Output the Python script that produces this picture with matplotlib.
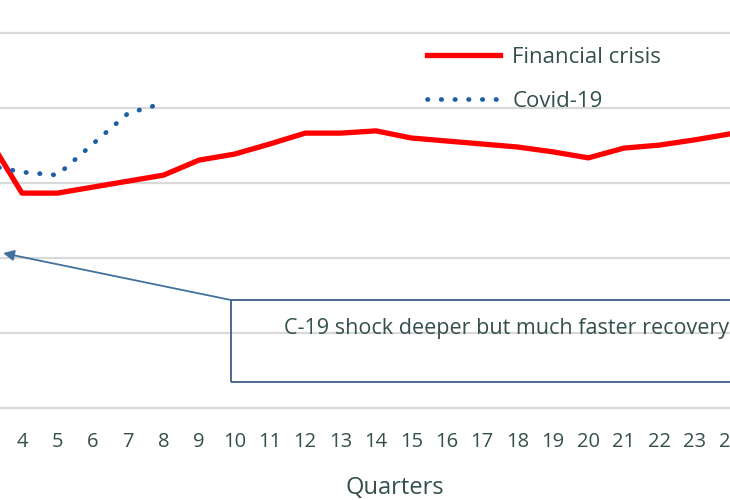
import matplotlib
matplotlib.use("Agg")
import matplotlib.pyplot as plt
from matplotlib.patches import Rectangle

plt.rcParams["font.family"] = ["Open Sans", "DejaVu Sans"]

# data (deviation from pre-crisis level)
quarters_fc = list(range(1, 25))
financial_crisis = [0.0, -1.0, -2.72, -4.27, -4.27, -4.11, -3.95, -3.79, -3.39, -3.23,
                    -2.96, -2.67, -2.67, -2.61, -2.80, -2.88, -2.96, -3.04, -3.17, -3.33,
                    -3.07, -2.99, -2.85, -2.69]
quarters_c19 = list(range(1, 9))
covid = [0.0, -8.5, -3.52, -3.71, -3.79, -2.96, -2.14, -1.87]
note = "C-19 shock deeper but much faster recovery"

text_col = "#34504c"
grid_col = "#d9d9d9"

fig = plt.figure(figsize=(7.3, 5.0), dpi=100)
ax = fig.add_axes([0, 0.184, 1, 0.816])

ax.plot(quarters_fc, financial_crisis, color="#ff0000", lw=3.8,
        solid_joinstyle="round", label="Financial crisis", zorder=3)
ax.plot(quarters_c19, covid, color="#1f5fa8", lw=3.4, dashes=(0.1, 2.8),
        dash_capstyle="round", label="Covid-19", zorder=3)

ax.set_xticks(quarters_fc)
ax.set_yticks([0, -2, -4, -6, -8, -10])
ax.set_xlim(3.38, 24.0)
ax.set_ylim(-10, 0.88)
ax.set_yticklabels([])
ax.tick_params(axis="y", length=0)
ax.tick_params(axis="x", length=0, pad=17, labelsize=14.5, labelcolor=text_col)
ax.grid(axis="y", color=grid_col, lw=1.6)
ax.set_axisbelow(True)
for side in ["top", "left", "right"]:
    ax.spines[side].set_visible(False)
ax.spines["bottom"].set_color(grid_col)
ax.spines["bottom"].set_linewidth(1.6)

ax.set_xlabel("Quarters", fontsize=17, color=text_col)
ax.xaxis.set_label_coords(0.541, -0.196)
ax.xaxis.label.set_va("center")

leg = ax.legend(loc="upper left", bbox_to_anchor=(0.557, 0.935), frameon=False,
                fontsize=16, handlelength=3.3, handletextpad=0.55, labelspacing=1.05)
for t in leg.get_texts():
    t.set_color(text_col)

# annotation box and arrow
ax.add_patch(Rectangle((9.9, -9.31), 16, 2.19, fill=False, edgecolor="#3b5f8a",
                       lw=1.3, clip_on=False, zorder=2))
ax.text(11.39, -7.87, note, fontsize=15.5, color=text_col, va="center", ha="left")
ax.annotate("", xy=(3.47, -5.87), xytext=(9.9, -7.12),
            arrowprops=dict(arrowstyle="-|>", color="#41719c", lw=1.3,
                            mutation_scale=16, shrinkA=0, shrinkB=0))

fig.savefig("out.png", dpi=100)
